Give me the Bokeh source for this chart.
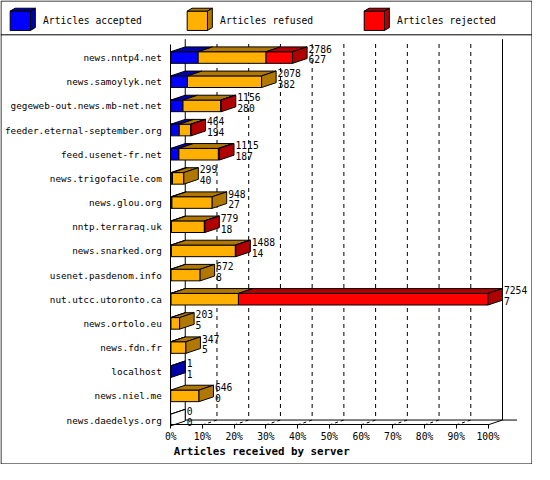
from bokeh.plotting import figure
from bokeh.models import Range1d, FixedTicker, ColumnDataSource
from bokeh.core.properties import value
from bokeh.embed import file_html
from bokeh.resources import INLINE

# ---------------- data ----------------
servers = ["news.nntp4.net", "news.samoylyk.net", "gegeweb-out.news.mb-net.net",
           "feeder.eternal-september.org", "feed.usenet-fr.net", "news.trigofacile.com",
           "news.glou.org", "nntp.terraraq.uk", "news.snarked.org", "usenet.pasdenom.info",
           "nut.utcc.utoronto.ca", "news.ortolo.eu", "news.fdn.fr", "localhost",
           "news.niel.me", "news.daedelys.org"]
totals = [2786, 2078, 1156, 464, 1115, 299, 948, 779, 1488, 672, 7254, 203, 347, 1, 646, 0]
accepted = [627, 382, 280, 194, 187, 40, 27, 18, 14, 8, 7, 5, 5, 1, 0, 0]
refused = [1553, 1696, 861, 265, 903, 259, 921, 751, 1464, 664, 1541, 198, 342, 0, 646, 0]
rejected = [606, 0, 15, 5, 25, 0, 0, 10, 10, 0, 5706, 0, 0, 0, 0, 0]
series_names = ["Articles accepted", "Articles refused", "Articles rejected"]
tick_values = [0, 10, 20, 30, 40, 50, 60, 70, 80, 90, 100]
tick_labels = ["0%", "10%", "20%", "30%", "40%", "50%", "60%", "70%", "80%", "90%", "100%"]
x_title = "Articles received by server"

# ---------------- style ----------------
series_colors = ["#0000FF", "#FFB000", "#FF0000"]
series_dark = ["#0000AA", "#B07800", "#B00000"]
FONT = "DejaVu Sans Mono"

# layout expressed in reference pixels (550 x 480), scaled to fit the window
K = 464 / 480
REF_W, REF_H = 550, 480
X0_PX = 176          # position of 0 %
PX_PER_PCT = 3.28
ROW0_PX, ROW_PX = 59, 25
DEPTH_X, DEPTH_Y = 15, 5
BAR_HALF = 6
FLOOR_FRONT, FLOOR_BACK = 439, 434
WALL_TOP, GRID_TOP, AXIS_TOP = 40, 45, 45


def xd(px):
    return (px - X0_PX) / PX_PER_PCT


def yd(px):
    return (px - ROW0_PX) / ROW_PX


dxp = DEPTH_X / PX_PER_PCT
dyr = DEPTH_Y / ROW_PX
hh = BAR_HALF / ROW_PX

W, H = round(REF_W * K), round(REF_H * K)
p = figure(width=W, height=H,
           x_range=Range1d(xd(0), xd(REF_W)),
           y_range=Range1d(yd(REF_H), yd(0)),
           output_backend="svg", toolbar_location=None,
           min_border_left=0, min_border_right=0, min_border_top=0, min_border_bottom=0)
p.outline_line_color = None
p.xgrid.visible = False
p.ygrid.visible = False
p.background_fill_color = "white"
p.border_fill_color = "white"

fs = f"{10 * K:.2f}px"
fs_cat = "9.3px"

# axes, drawn inside the frame at the 3D front edges
lo, hi = tick_values[0], tick_values[-1]
xa = p.xaxis[0]
xa.fixed_location = yd(FLOOR_FRONT)
xa.bounds = (lo, hi)
xa.ticker = FixedTicker(ticks=tick_values)
xa.major_label_overrides = {v: s for v, s in zip(tick_values, tick_labels)}
xa.axis_line_color = "black"
xa.major_tick_line_color = "black"
xa.major_tick_in = 0
xa.major_tick_out = 4
xa.minor_tick_line_color = None
xa.major_label_standoff = 2
xa.major_label_text_font = FONT
xa.major_label_text_font_size = fs
xa.major_label_text_color = "black"

ya = p.yaxis[0]
ya.fixed_location = lo
ya.bounds = (yd(FLOOR_FRONT), yd(AXIS_TOP))
ya.ticker = FixedTicker(ticks=list(range(len(servers))))
ya.major_label_overrides = {i: s for i, s in enumerate(servers)}
ya.axis_line_color = "black"
ya.major_tick_line_color = None
ya.minor_tick_line_color = None
ya.major_label_standoff = 3
ya.major_label_text_font = FONT
ya.major_label_text_font_size = fs_cat
ya.major_label_text_color = "black"

# ---------------- 3D walls, floor, grid ----------------
grid_pcts = tick_values[1:-1]
p.segment(x0=[v + dxp for v in grid_pcts], y0=[yd(GRID_TOP)] * len(grid_pcts),
          x1=[v + dxp for v in grid_pcts], y1=[yd(FLOOR_BACK)] * len(grid_pcts),
          line_color="black", line_width=1, line_dash="4 4")
p.segment(x0=grid_pcts, y0=[yd(FLOOR_FRONT)] * len(grid_pcts),
          x1=[v + dxp for v in grid_pcts], y1=[yd(FLOOR_BACK)] * len(grid_pcts),
          line_color="black", line_width=1, line_dash="3 3")
p.segment(x0=[lo + dxp, hi + dxp, lo + dxp, lo, hi],
          y0=[yd(WALL_TOP), yd(WALL_TOP), yd(FLOOR_BACK), yd(FLOOR_FRONT), yd(FLOOR_FRONT)],
          x1=[lo + dxp, hi + dxp, xd(534), lo + dxp, hi + dxp],
          y1=[yd(FLOOR_BACK), yd(FLOOR_BACK), yd(FLOOR_BACK), yd(FLOOR_BACK), yd(FLOOR_BACK)],
          line_color="black", line_width=1)

# ---------------- bars ----------------
vmax = max(totals)
front = dict(l=[], r=[], t=[], b=[], c=[])
faces = dict(xs=[], ys=[], c=[])
for i in range(len(servers)):
    segs = [accepted[i], refused[i], rejected[i]]
    start = 0.0
    last = None
    yt, yb = i - hh, i + hh
    for k, v in enumerate(segs):
        if v <= 0:
            continue
        x0 = start / vmax * 100
        x1 = (start + v) / vmax * 100
        front["l"].append(x0); front["r"].append(x1)
        front["t"].append(yt); front["b"].append(yb)
        front["c"].append(series_colors[k])
        faces["xs"].append([x0, x1, x1 + dxp, x0 + dxp])
        faces["ys"].append([yt, yt, yt - dyr, yt - dyr])
        faces["c"].append(series_dark[k])
        start += v
        last = k
    xe = start / vmax * 100
    col = series_dark[last] if last is not None else "white"
    if last is None:
        faces["xs"].append([xe, xe, xe + dxp, xe + dxp])
        faces["ys"].append([yt, yt, yt - dyr, yt - dyr])
        faces["c"].append("white")
    faces["xs"].append([xe, xe, xe + dxp, xe + dxp])
    faces["ys"].append([yt, yb, yb - dyr, yt - dyr])
    faces["c"].append(col)

p.quad(left="l", right="r", top="t", bottom="b", fill_color="c", line_color="black",
       line_width=1, source=ColumnDataSource(front))
p.patches(xs="xs", ys="ys", fill_color="c", line_color="black", line_width=1,
          source=ColumnDataSource(faces))

# value labels (total offered / accepted)
ends = [t / vmax * 100 + dxp + 1.5 / PX_PER_PCT for t in totals]
rows = list(range(len(servers)))
p.text(x=ends, y=[r - 0.37 for r in rows], text=[str(t) for t in totals],
       text_font=value(FONT), text_font_size=fs, text_baseline="middle", text_color="black")
p.text(x=ends, y=[r + 0.08 for r in rows], text=[str(a) for a in accepted],
       text_font=value(FONT), text_font_size=fs, text_baseline="middle", text_color="black")

# axis title
p.text(x=[xd(179)], y=[yd(467)], text=[x_title], text_font=value(FONT),
       text_font_size=f"{11.2 * K:.2f}px", text_font_style="bold",
       text_baseline="middle", text_color="black")

# ---------------- legend (3D cubes) ----------------
leg_x = [10, 193, 376]
leg = dict(xs=[], ys=[], c=[])
for k in range(len(series_names)):
    lx = leg_x[k]
    leg["xs"] += [[xd(lx), xd(lx + 21), xd(lx + 21), xd(lx)],
                  [xd(lx), xd(lx + 21), xd(lx + 26), xd(lx + 5)],
                  [xd(lx + 21), xd(lx + 26), xd(lx + 26), xd(lx + 21)]]
    leg["ys"] += [[yd(11), yd(11), yd(31), yd(31)],
                  [yd(11), yd(11), yd(8), yd(8)],
                  [yd(11), yd(8), yd(28), yd(31)]]
    leg["c"] += [series_colors[k], series_dark[k], series_dark[k]]
p.patches(xs="xs", ys="ys", fill_color="c", line_color="black", line_width=1,
          source=ColumnDataSource(leg))
p.text(x=[xd(lx + 34) for lx in leg_x], y=[yd(21)] * 3, text=series_names,
       text_font=value(FONT), text_font_size=fs, text_baseline="middle", text_color="black")

# outer border and legend separator
e = 0.5 / K
p.patches(xs=[[xd(e), xd(REF_W - e), xd(REF_W - e), xd(e)]],
          ys=[[yd(e), yd(e), yd(REF_H - e), yd(REF_H - e)]],
          fill_color=None, line_color="black", line_width=1)
p.segment(x0=[xd(0)], y0=[yd(35.5)], x1=[xd(REF_W)], y1=[yd(35.5)],
          line_color="black", line_width=1)

open("out.html", "w").write(file_html(p, INLINE))
